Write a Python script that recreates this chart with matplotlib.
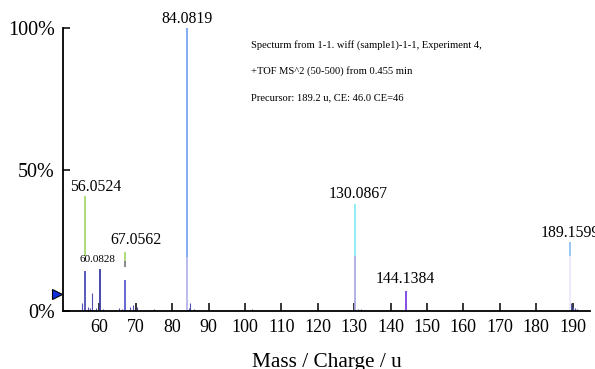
import matplotlib
matplotlib.use("Agg")
import matplotlib.pyplot as plt

plt.rcParams['font.family'] = ['Liberation Serif', 'DejaVu Serif']

# main peak segments (m/z, lower %, upper %, colour) - overlaid spectra
seg_mz = [56.0524, 56.0524, 60.0828, 67.0562, 67.0562, 67.0562,
          84.0819, 84.0819, 130.0867, 130.0867, 144.1384, 189.1599, 189.1599]
seg_lo = [19.4, 0, 0, 17.5, 15.5, 0, 19, 0, 19.4, 0, 0, 19.4, 0]
seg_hi = [40.6, 14, 15, 21, 17.5, 11, 100, 19, 37.8, 19.4, 7, 24.4, 19.4]
seg_color = ['#a6d86e', '#4b4bb5', '#3a3aa5', '#a6d86e', '#808080', '#5a5ad0',
             '#7aa6f2', '#b4b4ea', '#86eaf2', '#aaaae2', '#7b3fe4', '#90c4f2', '#e8e8f8']

# small noise peaks
noise_mz = [55.3, 57.0, 57.5, 58.1, 59.0, 61.0, 62.0, 64.0, 65.5, 66.3, 68.5, 69.3,
            70.2, 72.5, 75.0, 78.8, 81.0, 82.0, 83.0, 84.5, 85.0, 86.0, 87.0, 88.5,
            94.0, 96.0, 98.0, 102.0, 129.0, 131.0, 132.0, 133.0, 134.0, 145.0,
            150.5, 189.6, 190.2, 190.7, 191.2]
noise_int = [3.0, 1.5, 1.0, 6.4, 1.0, 0.7, 0.5, 0.5, 1.2, 0.8, 1.5, 2.0,
             1.5, 0.5, 0.8, 0.4, 0.5, 0.4, 0.5, 1.0, 3.0, 0.8, 0.5, 0.3,
             0.5, 0.5, 0.4, 0.8, 0.5, 0.7, 0.6, 0.5, 0.5, 0.5,
             0.3, 3.0, 1.5, 1.0, 0.8]

# peak labels (text, x, y, size)
lab_text = ['84.0819', '56.0524', '60.0828', '67.0562', '130.0867', '144.1384', '189.1599']
lab_x = [84.0819, 59.0, 59.4, 70.0, 131.2, 144.0, 189.3]
lab_y = [100.4, 41.0, 16.6, 22.4, 38.6, 8.4, 24.9]
lab_size = [11.3, 11.3, 8, 11.3, 11.3, 11.3, 11.3]

info_lines = ["Specturm from 1-1. wiff (sample1)-1-1, Experiment 4,",
              "+TOF MS^2 (50-500) from 0.455 min",
              "Precursor: 189.2 u, CE: 46.0 CE=46"]

dpi = 100
fig = plt.figure(figsize=(595 / dpi, 369 / dpi), dpi=dpi)
ax = fig.add_axes([63 / 595, 1 - 311 / 369, 527 / 595, 283 / 369])

ax.vlines(noise_mz, 0, noise_int, colors='#5050b0', linewidth=0.8)
ax.vlines(seg_mz, seg_lo, seg_hi, colors=seg_color, linewidth=1.3)

for t, x, y, s in zip(lab_text, lab_x, lab_y, lab_size):
    ax.text(x, y, t, ha='center', va='bottom', fontsize=s, clip_on=False)

for i, line in enumerate(info_lines):
    fig.text(251 / 595, 1 - (45 + 26.5 * i) / 369, line, fontsize=7.6, va='center', ha='left')

# blue pointer at the left of the axis
ax.plot([-0.012], [6], marker='>', markersize=7, color='#1030e0', markeredgecolor='black',
        markeredgewidth=0.8, transform=ax.get_yaxis_transform(), clip_on=False)

ax.set_xlim(50, 50 + 527 / 3.64)
ax.set_ylim(0, 100)
ax.set_xticks(range(60, 191, 10))
ax.set_yticks([0, 50, 100])
ax.set_yticklabels(['0%', '50%', '100%'])
ax.tick_params(axis='x', direction='in', length=6, width=1.1, labelsize=13, pad=6)
ax.tick_params(axis='y', direction='in', length=5, width=1.1, labelsize=14.5, pad=6)
for s in ['top', 'right']:
    ax.spines[s].set_visible(False)
for s in ['left', 'bottom']:
    ax.spines[s].set_linewidth(1.3)

ax.set_xlabel("Mass / Charge / u", fontsize=15.3, labelpad=12)

fig.savefig("out.png", dpi=dpi)
